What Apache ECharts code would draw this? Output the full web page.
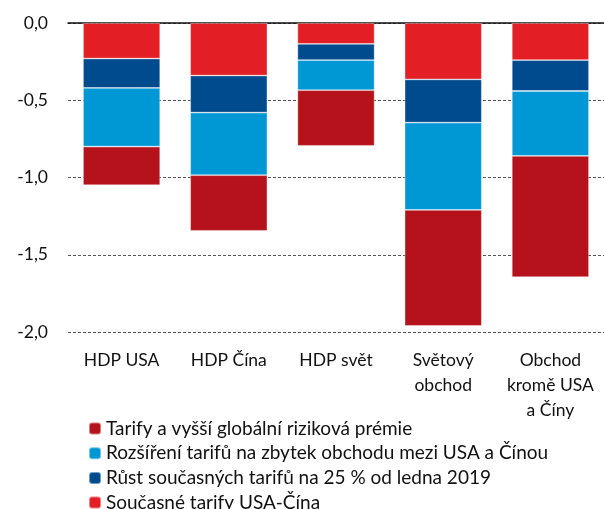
<!DOCTYPE html>
<html>
<head>
<meta charset="utf-8">
<script src="https://cdn.jsdelivr.net/npm/echarts@6/dist/echarts.min.js"></script>
<style>
  html, body { margin: 0; padding: 0; background: #fff; }
  #chart { width: 604px; height: 509px; }
</style>
</head>
<body>
<div id="chart"></div>
<script>
const categories = ['HDP USA', 'HDP Čína', 'HDP svět', 'Světový\nobchod', 'Obchod\nkromě USA\na Číny'];

const currentTariffs = [-0.23, -0.34, -0.135, -0.365, -0.24];
const tariffRise = [-0.19, -0.24, -0.105, -0.28, -0.2];
const tariffExtension = [-0.38, -0.405, -0.195, -0.565, -0.42];
const riskPremium = [-0.25, -0.36, -0.36, -0.75, -0.785];

const seriesNames = [
  'Současné tarify USA-Čína',
  'Růst současných tarifů na 25 % od ledna 2019',
  'Rozšíření tarifů na zbytek obchodu mezi USA a Čínou',
  'Tarify a vyšší globální riziková prémie'
];
const seriesColors = ['#e31e24', '#004b8d', '#0098d4', '#b5121b'];
const seriesValues = [currentTariffs, tariffRise, tariffExtension, riskPremium];

const font = 'Lato';

// one legend per row so the last row can sit at the very bottom edge
const legendRows = seriesNames.slice().reverse().map((name, i) => ({
  orient: 'vertical',
  left: 88,
  top: 418 + i * 24.7,
  padding: 0,
  itemWidth: 12,
  itemHeight: 12,
  data: [name],
  textStyle: { fontSize: 19, color: '#111', fontFamily: font, lineHeight: 12, padding: [0, 0, 9, 0] }
}));

const option = {
  animation: false,
  textStyle: { fontFamily: font },
  grid: { left: 68, right: -6, top: 23, bottom: 177 },
  legend: legendRows,
  xAxis: [
    {
      type: 'category',
      data: categories,
      position: 'bottom',
      axisLine: { show: false },
      axisTick: { show: false },
      axisLabel: { color: '#111', fontSize: 17.5, lineHeight: 25, margin: 16, interval: 0 }
    },
    {
      type: 'category',
      data: categories,
      position: 'top',
      axisLine: { show: true, lineStyle: { color: '#111', width: 1.5 } },
      axisTick: { show: false },
      axisLabel: { show: false }
    }
  ],
  yAxis: {
    type: 'value',
    min: -2,
    max: 0,
    interval: 0.5,
    axisLine: { show: false },
    axisTick: { show: false },
    axisLabel: {
      color: '#111',
      fontSize: 17.5,
      margin: 20,
      formatter: (v) => v.toFixed(1).replace('.', ',')
    },
    splitLine: { lineStyle: { color: '#555', type: [3, 2], width: 1 } }
  },
  series: seriesNames.map((name, i) => ({
    name: name,
    type: 'bar',
    stack: 'total',
    barCategoryGap: '28%',
    data: seriesValues[i],
    itemStyle: { color: seriesColors[i], borderColor: 'rgba(255,255,255,0.45)', borderWidth: 0.8 }
  }))
};

const myChart = echarts.init(document.getElementById('chart'));
myChart.setOption(option, true);
window.onresize = function () {
  myChart.resize();
};
</script>
</body>
</html>
